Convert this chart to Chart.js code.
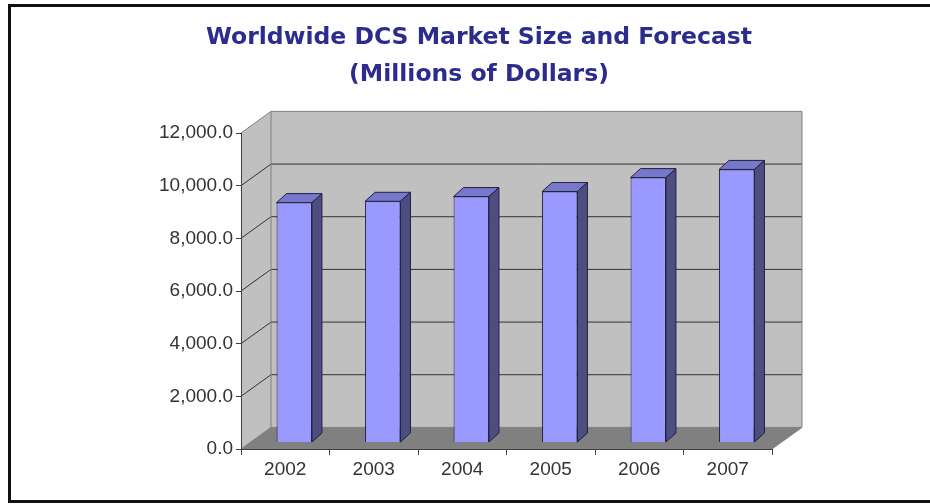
<!DOCTYPE html>
<html>
<head>
<meta charset="utf-8">
<script src="https://cdn.jsdelivr.net/npm/chart.js@4.4.0/dist/chart.umd.min.js"></script>
<style>
  html, body { margin: 0; padding: 0; background: #fff; }
  #wrap { width: 930px; height: 504px; }
</style>
</head>
<body>
<div id="wrap"><canvas id="chart"></canvas></div>
<script>
// data
const YEARS = ['2002', '2003', '2004', '2005', '2006', '2007'];
const MARKET_SIZE = [9110, 9160, 9340, 9530, 10060, 10370];
const Y_MIN = 0;
const Y_MAX = 12000;
const Y_STEP = 2000;
const TITLE = ['Worldwide DCS Market Size and Forecast', '(Millions of Dollars)'];

// fake 3D: back wall offset from the front plane, bar inset and bar depth
const WALL_DX = 30, WALL_DY = -21.6;
const BAR_SHIFT_X = 9, BAR_SHIFT_Y = -6.5;
const BAR_DX = 10, BAR_DY = -9;

const WALL_FILL = '#c0c0c0';
const FLOOR_FILL = '#808080';
const WALL_EDGE = '#808080';
const GRID_COLOR = '#333333';
const BAR_FRONT = '#9999ff';
const BAR_TOP = '#7777cc';
const BAR_SIDE = '#4d4d80';
const BAR_EDGE = '#202044';
const TITLE_COLOR = '#2c2c8e';

function poly(ctx, pts, fill, stroke) {
  ctx.beginPath();
  ctx.moveTo(pts[0][0], pts[0][1]);
  for (let i = 1; i < pts.length; i++) ctx.lineTo(pts[i][0], pts[i][1]);
  ctx.closePath();
  if (fill) { ctx.fillStyle = fill; ctx.fill(); }
  if (stroke) { ctx.strokeStyle = stroke; ctx.lineWidth = 1; ctx.stroke(); }
}

// white background, side wall, back wall, floor and gridlines
const walls3d = {
  id: 'walls3d',
  beforeDraw(chart) {
    const { ctx, chartArea: a, scales: { y } } = chart;
    const L = a.left, R = a.right, T = a.top, B = a.bottom;
    ctx.save();
    ctx.fillStyle = '#fff';
    ctx.fillRect(0, 0, chart.width, chart.height);

    poly(ctx, [[L, T], [L + WALL_DX, T + WALL_DY], [L + WALL_DX, B + WALL_DY], [L, B]], WALL_FILL);
    poly(ctx, [[L + WALL_DX, T + WALL_DY], [R + WALL_DX, T + WALL_DY], [R + WALL_DX, B + WALL_DY], [L + WALL_DX, B + WALL_DY]], WALL_FILL);
    poly(ctx, [[L, B], [L + WALL_DX, B + WALL_DY], [R + WALL_DX, B + WALL_DY], [R, B]], FLOOR_FILL);

    ctx.strokeStyle = GRID_COLOR;
    ctx.lineWidth = 1;
    y.ticks.forEach(t => {
      if (t.value <= Y_MIN || t.value >= Y_MAX) return;
      const py = y.getPixelForValue(t.value);
      ctx.beginPath();
      ctx.moveTo(L, py);
      ctx.lineTo(L + WALL_DX, py + WALL_DY);
      ctx.lineTo(R + WALL_DX, py + WALL_DY);
      ctx.stroke();
    });

    // wall outlines
    ctx.strokeStyle = WALL_EDGE;
    ctx.beginPath();
    ctx.moveTo(L, T);
    ctx.lineTo(L + WALL_DX, T + WALL_DY);
    ctx.lineTo(R + WALL_DX, T + WALL_DY);
    ctx.lineTo(R + WALL_DX, B + WALL_DY);
    ctx.lineTo(R, B);
    ctx.moveTo(L + WALL_DX, T + WALL_DY);
    ctx.lineTo(L + WALL_DX, B + WALL_DY);
    ctx.lineTo(R + WALL_DX, B + WALL_DY);
    ctx.moveTo(L, B);
    ctx.lineTo(L + WALL_DX, B + WALL_DY);
    ctx.stroke();
    ctx.restore();
  },
  afterDraw(chart) {
    const ctx = chart.ctx;
    ctx.save();
    // title, centred a little right of the canvas middle as in the original
    ctx.fillStyle = TITLE_COLOR;
    ctx.font = "bold 23.5px 'DejaVu Sans'";
    ctx.textAlign = 'center';
    ctx.textBaseline = 'middle';
    TITLE.forEach((line, i) => ctx.fillText(line, 479, 37.5 + i * 37));
    // frame round the picture
    ctx.strokeStyle = '#111';
    ctx.lineWidth = 3;
    ctx.strokeRect(9.5, 5.5, chart.width + 10, 496);
    ctx.restore();
  }
};

// bar tops and sides; front faces are drawn by Chart.js, pushed back a little
const bars3d = {
  id: 'bars3d',
  beforeDatasetsDraw(chart) {
    const ctx = chart.ctx;
    ctx.save();
    ctx.translate(BAR_SHIFT_X, BAR_SHIFT_Y);
    chart.getDatasetMeta(0).data.forEach(bar => {
      const l = bar.x - bar.width / 2, r = bar.x + bar.width / 2;
      const t = bar.y, b = bar.base;
      poly(ctx, [[l, t], [l + BAR_DX, t + BAR_DY], [r + BAR_DX, t + BAR_DY], [r, t]], BAR_TOP, BAR_EDGE);
      poly(ctx, [[r, t], [r + BAR_DX, t + BAR_DY], [r + BAR_DX, b + BAR_DY], [r, b]], BAR_SIDE, BAR_EDGE);
    });
  },
  afterDatasetsDraw(chart) {
    chart.ctx.restore();
  }
};

const fmt = v => v.toLocaleString('en-US', { minimumFractionDigits: 1, maximumFractionDigits: 1 });

new Chart(document.getElementById('chart'), {
  type: 'bar',
  data: {
    labels: YEARS,
    datasets: [{
      data: MARKET_SIZE,
      backgroundColor: BAR_FRONT,
      borderColor: BAR_EDGE,
      borderWidth: 1,
      barPercentage: 0.4,
      categoryPercentage: 1,
    }]
  },
  options: {
    responsive: true,
    maintainAspectRatio: false,
    animation: false,
    layout: { padding: { left: 130, right: 158, top: 133, bottom: 0 } },
    plugins: {
      legend: { display: false },
      tooltip: { enabled: false },
      title: { display: false },
    },
    scales: {
      x: {
        grid: { drawOnChartArea: false, tickLength: 6, color: '#404040' },
        border: { color: '#404040' },
        ticks: {
          color: '#333',
          font: { family: "'Liberation Sans'", size: 19 },
          padding: 3,
        },
        afterFit(scale) { scale.height = 55; }
      },
      y: {
        min: Y_MIN,
        max: Y_MAX,
        grid: { drawOnChartArea: false, tickLength: 5, color: '#404040' },
        border: { color: '#404040' },
        ticks: {
          stepSize: Y_STEP,
          color: '#333',
          font: { family: "'Liberation Sans'", size: 19 },
          padding: 3,
          callback: v => fmt(v),
        },
        afterFit(scale) { scale.width = 111; }
      }
    }
  },
  plugins: [walls3d, bars3d]
});
</script>
</body>
</html>
